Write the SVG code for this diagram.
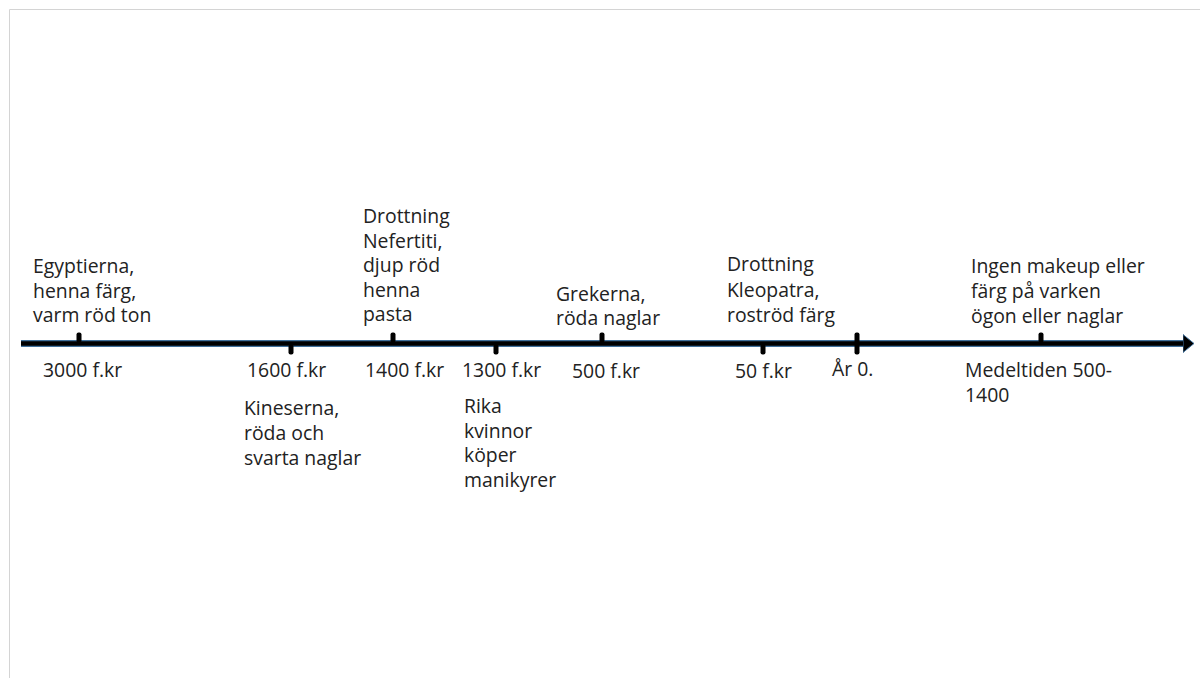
<svg xmlns="http://www.w3.org/2000/svg" width="1200" height="678" viewBox="0 0 1200 678">
<style>
text{font-family:"Open Sans","Noto Sans",sans-serif;font-size:19.4px;fill:#222}
.tick{fill:#000}
</style>
<defs>
<marker id="arr" markerUnits="userSpaceOnUse" markerWidth="14" markerHeight="22" refX="0" refY="11" orient="auto">
<path d="M0,2 L11,11 L0,20 Z" fill="#000" stroke="#41719C" stroke-width="1"/>
</marker>
</defs>
<rect width="1200" height="678" fill="#fff"/>
<path d="M9.5,678 V9.5 H1200" fill="none" stroke="#d4d4d4" stroke-width="1"/>
<g id="connectors">
<line x1="21" y1="343.5" x2="1183" y2="343.5" stroke="#41719C" stroke-width="7"/>
<line x1="21" y1="343.5" x2="1183" y2="343.5" stroke="#000" stroke-width="4.5" marker-end="url(#arr)"/>
<rect class="tick" x="76.5" y="332.5" width="5" height="10" rx="2"/>
<rect class="tick" x="288.5" y="344.5" width="5" height="10" rx="2"/>
<rect class="tick" x="390.5" y="332.5" width="5" height="10" rx="2"/>
<rect class="tick" x="493.5" y="344.5" width="5" height="10" rx="2"/>
<rect class="tick" x="599.5" y="332.5" width="5" height="10" rx="2"/>
<rect class="tick" x="760.5" y="344.5" width="5" height="10" rx="2"/>
<rect class="tick" x="854.5" y="332.5" width="5" height="22" rx="2"/>
<rect class="tick" x="1038.5" y="332.5" width="5" height="10" rx="2"/>
</g>
<g id="n3000">
<text x="33" y="273">Egyptierna,</text>
<text x="33" y="297.5">henna färg,</text>
<text x="33" y="322">varm röd ton</text>
<text x="43" y="377">3000 f.kr</text>
</g>
<g id="n1600">
<text x="247" y="377">1600 f.kr</text>
<text x="244" y="415">Kineserna,</text>
<text x="244" y="440">röda och</text>
<text x="244" y="465">svarta naglar</text>
</g>
<g id="n1400">
<text x="363" y="223">Drottning</text>
<text x="363" y="247.5">Nefertiti,</text>
<text x="363" y="272">djup röd</text>
<text x="363" y="296.5">henna</text>
<text x="363" y="321">pasta</text>
<text x="365" y="377">1400 f.kr</text>
</g>
<g id="n1300">
<text x="462" y="377">1300 f.kr</text>
<text x="464" y="413">Rika</text>
<text x="464" y="437.5">kvinnor</text>
<text x="464" y="462">köper</text>
<text x="464" y="486.5">manikyrer</text>
</g>
<g id="n500">
<text x="556" y="300.5">Grekerna,</text>
<text x="556" y="325">röda naglar</text>
<text x="572" y="378">500 f.kr</text>
</g>
<g id="n50">
<text x="727" y="271">Drottning</text>
<text x="727" y="296.5">Kleopatra,</text>
<text x="727" y="321.5">roströd färg</text>
<text x="735" y="378">50 f.kr</text>
</g>
<g id="n0">
<text x="832" y="376">År 0.</text>
</g>
<g id="nMedeltid">
<text x="971" y="273">Ingen makeup eller</text>
<text x="971" y="298">färg på varken</text>
<text x="971" y="323">ögon eller naglar</text>
<text x="965" y="377">Medeltiden 500-</text>
<text x="965" y="401.5">1400</text>
</g>
</svg>
